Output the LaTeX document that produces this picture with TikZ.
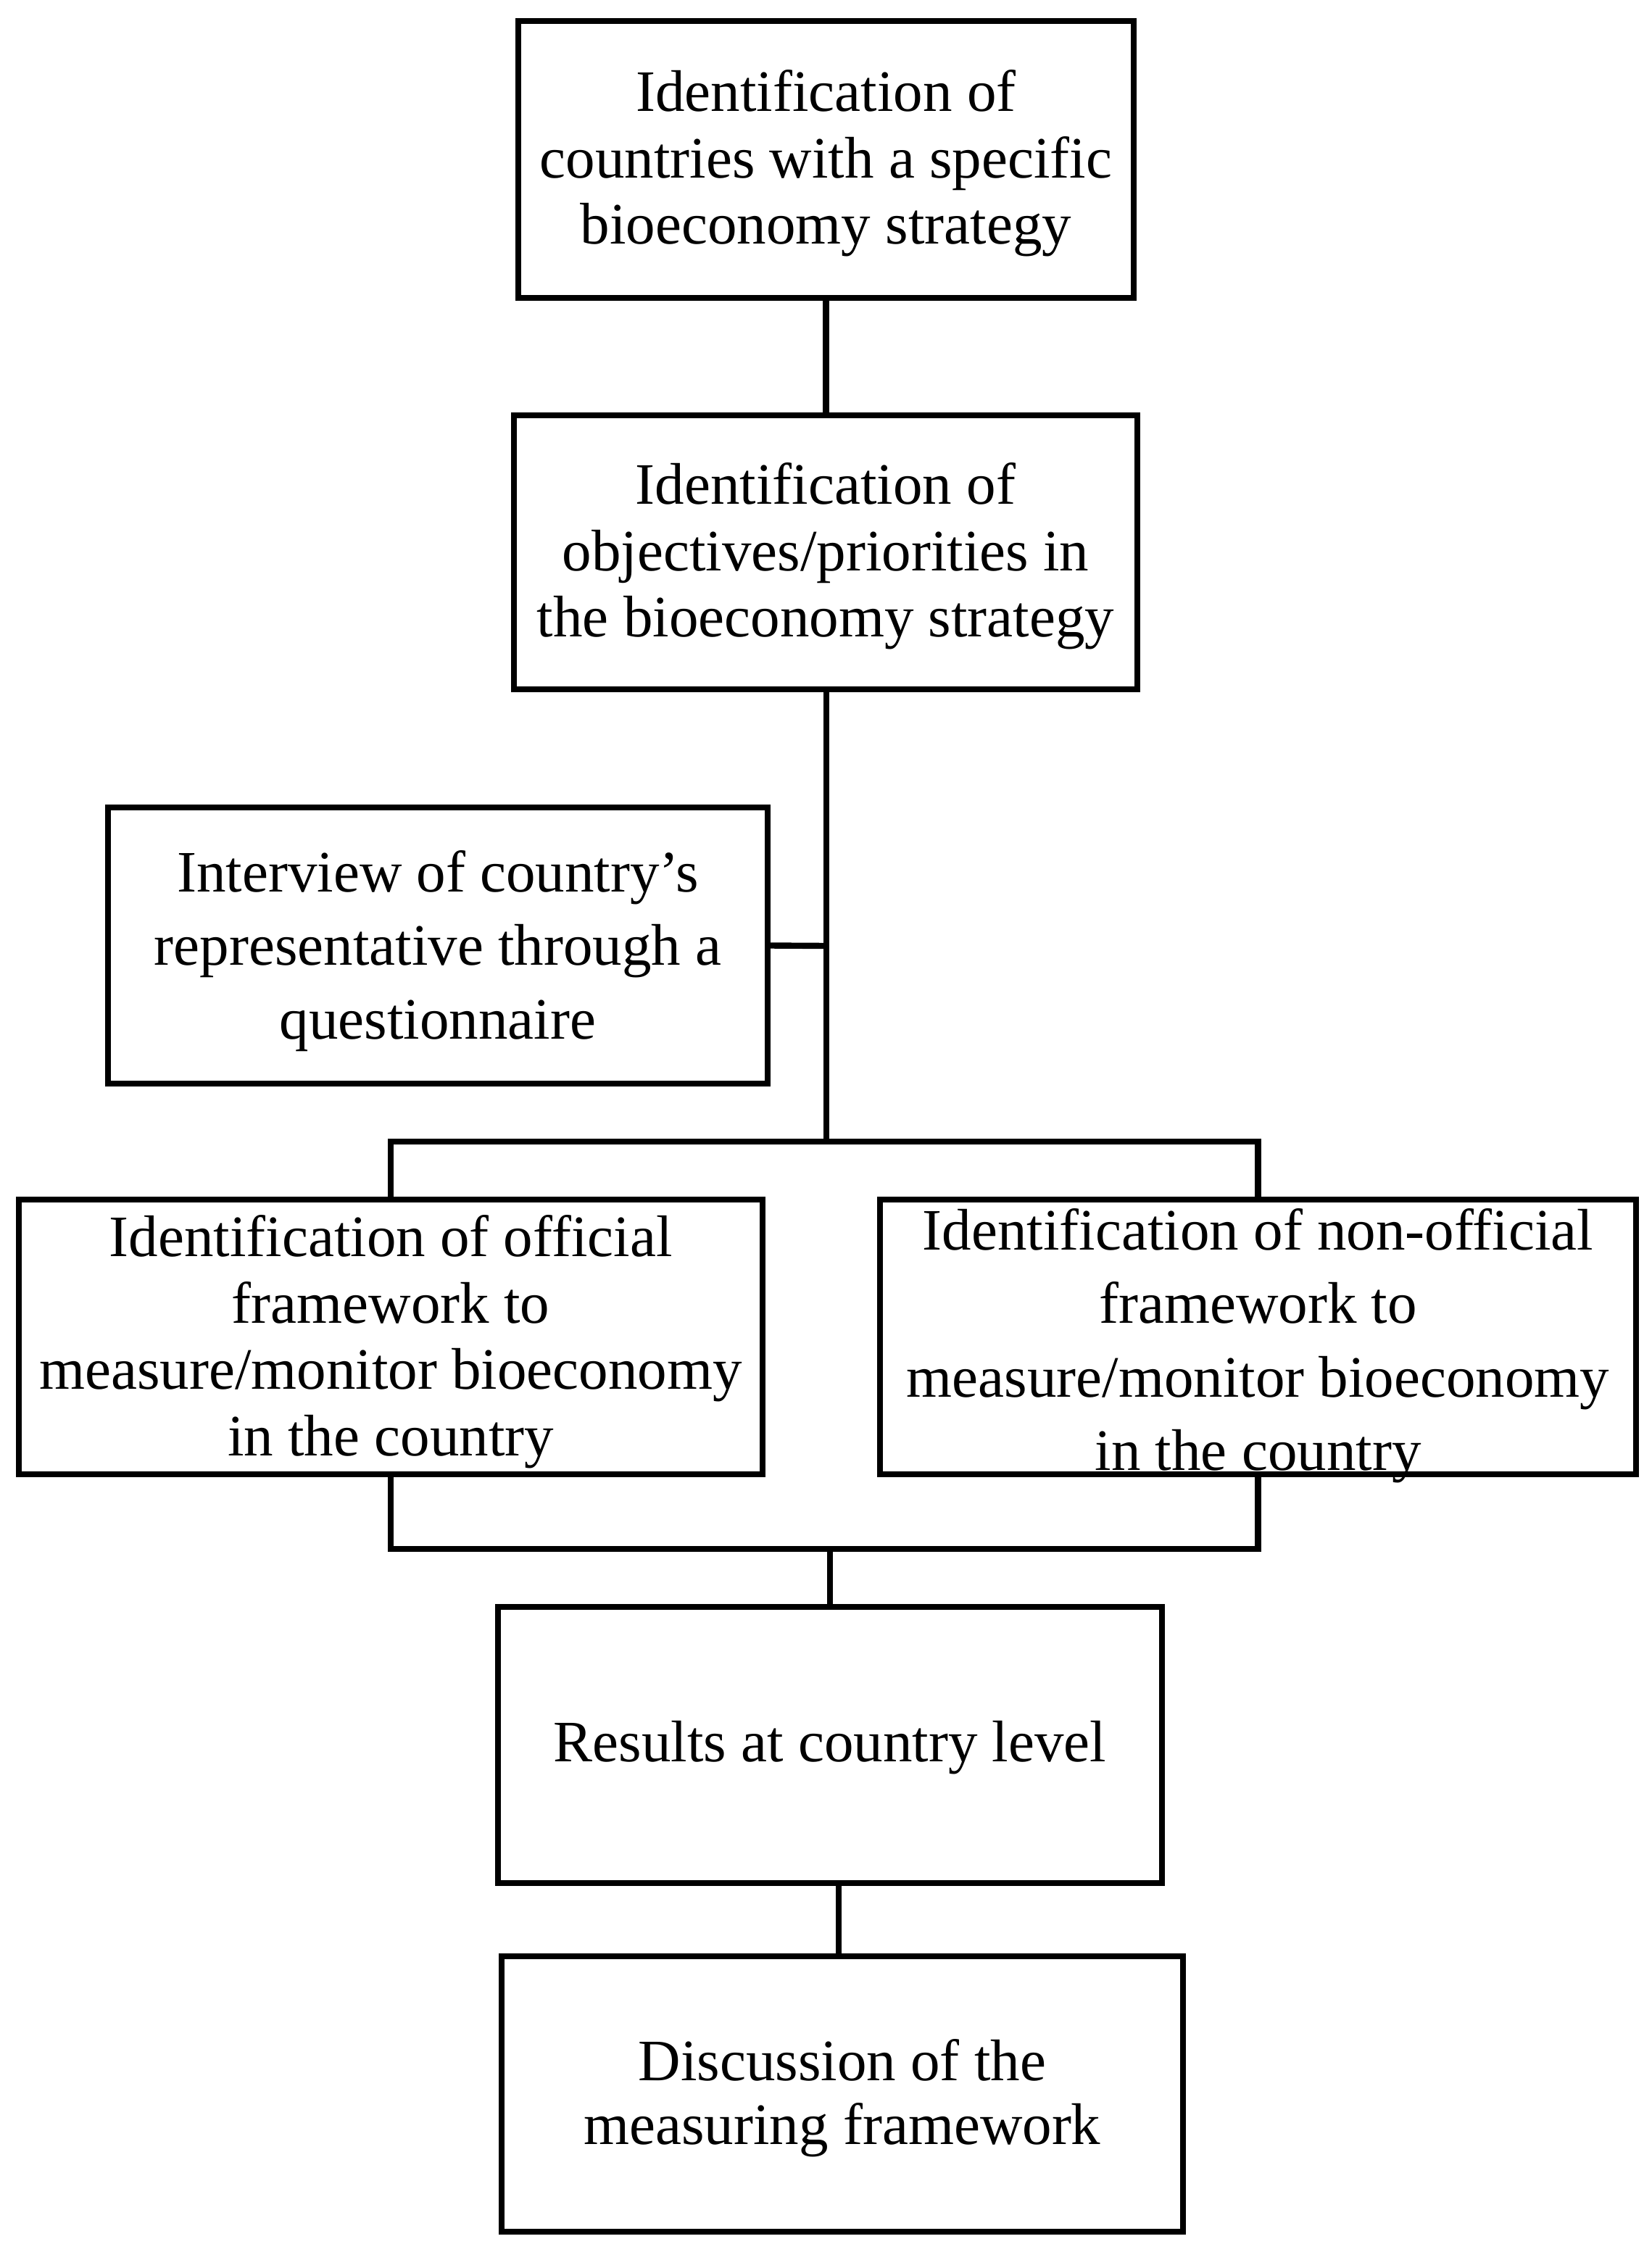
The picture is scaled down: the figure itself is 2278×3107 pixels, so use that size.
\documentclass[tikz,border=0pt]{standalone}
\usepackage{fontspec}
\setmainfont{Liberation Serif}
\begin{document}
\begin{tikzpicture}[x=1pt,y=-1pt,
  box/.style={draw=black, line width=8.4pt, inner sep=0pt, align=center,
    font=\fontsize{81}{91.5}\selectfont, line join=miter},
  wide/.style={font=\fontsize{81}{101.5}\selectfont},
  conn/.style={draw=black, line width=8.4pt, line join=miter}]
\useasboundingbox (0,0) rectangle (2278,3107);
\node[box, minimum width=849pt, minimum height=381.5pt] (b1) at (1139.5,220)
  {\rule{0pt}{68pt}Identification of\\countries with a specific\\bioeconomy strategy};
\node[box, minimum width=860pt, minimum height=378pt] (b2) at (1139,762)
  {\rule{0pt}{68pt}Identification of\\objectives/priorities in\\the bioeconomy strategy};
\node[box, wide, minimum width=910pt, minimum height=381pt] (b3) at (604,1304.5)
  {\rule{0pt}{72pt}Interview of country’s\\representative through a\\questionnaire};
\node[box, minimum width=1026pt, minimum height=379pt] (b4) at (539,1844.5)
  {\rule{0pt}{70pt}Identification of official\\framework to\\measure/monitor bioeconomy\\in the country};
\node[box, wide, minimum width=1043pt, minimum height=379pt] (b5) at (1735.5,1844.5)
  {\rule{0pt}{64pt}Identification of non-official\\framework to\\measure/monitor bioeconomy\\\raisebox{0pt}[\height][0pt]{in the country}};
\node[box, minimum width=916pt, minimum height=381pt] (b6) at (1145,2407.5)
  {\rule{0pt}{64pt}Results at country level};
\node[box, font=\fontsize{81}{88}\selectfont, minimum width=940pt, minimum height=380pt] (b7) at (1162,2889)
  {\rule{0pt}{68pt}Discussion of the\\measuring framework};
\coordinate (j1) at (1140,1305);
\coordinate (bar) at (1140,1575);
\coordinate (bar2) at (1145,2137);
\coordinate (c6) at (1157,2598);
\draw[conn] (b1.south) -- (b1.south |- b2.north);
\draw[conn] (b2.south -| bar) -- (bar);
\draw[conn] (b3.east) -- (j1);
\draw[conn] (b4.north) |- (bar) -| (b5.north);
\draw[conn] (b4.south) |- (bar2) -| (b5.south);
\draw[conn] (bar2) -- (b6.north);
\draw[conn] (c6) -- (c6 |- b7.north);
\end{tikzpicture}
\end{document}
